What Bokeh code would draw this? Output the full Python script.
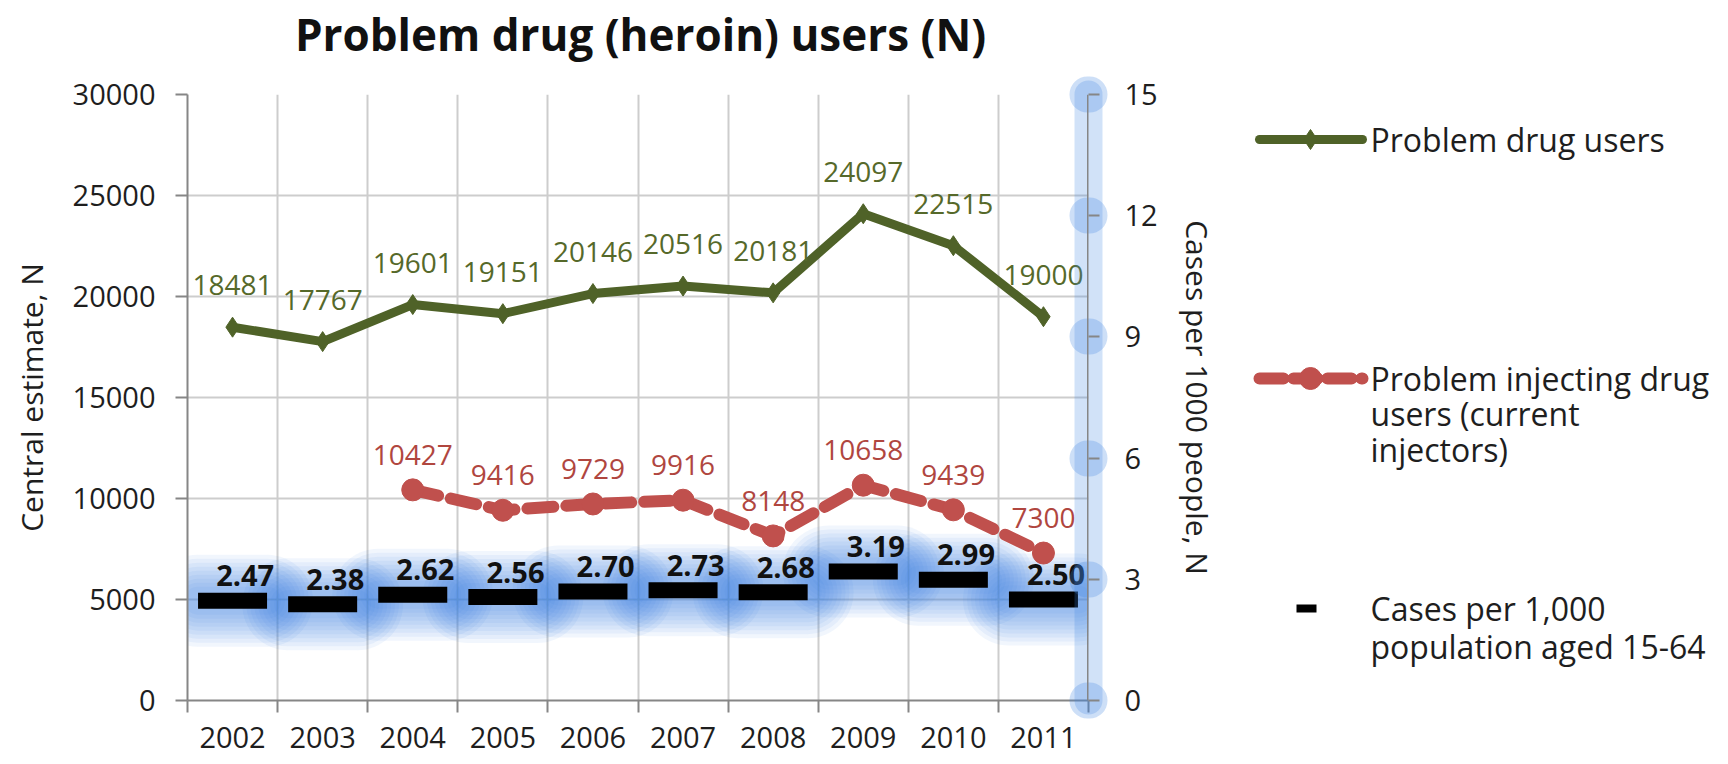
from bokeh.plotting import figure
from bokeh.models import Range1d, LinearAxis, FixedTicker, ColumnDataSource, Span
from bokeh.layouts import row, column
from bokeh.transform import dodge
from bokeh.embed import file_html
from bokeh.resources import INLINE
from bokeh.core.properties import value

# ---------------- data ----------------
years = [2002, 2003, 2004, 2005, 2006, 2007, 2008, 2009, 2010, 2011]
problem_users = [18481, 17767, 19601, 19151, 20146, 20516, 20181, 24097, 22515, 19000]
injecting_users = [None, None, 10427, 9416, 9729, 9916, 8148, 10658, 9439, 7300]
cases_per_1000 = [2.47, 2.38, 2.62, 2.56, 2.70, 2.73, 2.68, 3.19, 2.99, 2.50]
left_ticks = [0, 5000, 10000, 15000, 20000, 25000, 30000]
right_ticks = [0, 3, 6, 9, 12, 15]
title_text = ["Problem drug (heroin) users (N)"]
left_title = "Central estimate, N"
right_title = "Cases per 1000 people, N"
legend_users = ["Problem drug users"]
legend_inject = ["Problem injecting drug", "users (current", "injectors)"]
legend_cases = ["Cases per 1,000", "population aged 15-64"]

FONT = "Open Sans"
GREEN = "#4F6228"
GREEN_TXT = "#56692A"
RED = "#C0504D"
RED_TXT = "#B0463F"
GLOW = "#3D85E0"
AXIS = "#868686"
GRID = "#CDCDCD"
TXT = "#1E1E1E"

# layout (page pixels)
TOTAL_W = 1724
TITLE_H = 64
H = 764 - TITLE_H
FRAME_L, FRAME_R = 187, 1088
FRAME_T, FRAME_B = 94, 700            # page coordinates
MAIN_W = 1238
LEG_W = TOTAL_W - MAIN_W
BORDER_T = FRAME_T - TITLE_H
BORDER_B = 764 - FRAME_B

# ---------------- title strip ----------------
tf = figure(width=TOTAL_W, height=TITLE_H, x_range=Range1d(0, TOTAL_W),
            y_range=Range1d(TITLE_H, 0), x_axis_type=None, y_axis_type=None,
            output_backend="svg", toolbar_location=None, min_border=0)
tf.outline_line_color = None
tf.grid.visible = False
tf.text(x=[640], y=[33], text=title_text, text_font=value(FONT),
        text_font_size="44px", text_font_style="bold", text_color="#111111",
        text_align="center", text_baseline="alphabetic")

# ---------------- main figure ----------------
p = figure(width=MAIN_W, height=H,
           x_range=Range1d(years[0] - 0.5, years[-1] + 0.5),
           y_range=Range1d(left_ticks[0], left_ticks[-1]),
           output_backend="svg", toolbar_location=None,
           min_border_left=FRAME_L, min_border_right=MAIN_W - FRAME_R,
           min_border_top=BORDER_T, min_border_bottom=BORDER_B)
p.outline_line_color = None
p.background_fill_color = "white"
p.border_fill_color = "white"

p.extra_y_ranges = {"right": Range1d(right_ticks[0], right_ticks[-1])}

# left axis
ya = p.yaxis[0]
ya.ticker = FixedTicker(ticks=left_ticks)
ya.axis_label = left_title
ya.axis_label_text_font = FONT
ya.axis_label_text_font_size = "30px"
ya.axis_label_text_font_style = "normal"
ya.axis_label_text_color = TXT
ya.axis_label_standoff = 18
ya.major_label_text_font = FONT
ya.major_label_text_font_size = "29px"
ya.major_label_text_color = TXT
ya.major_label_standoff = 20
ya.major_tick_out = 12
ya.major_tick_in = 0
ya.major_tick_line_color = AXIS
ya.major_tick_line_width = 2
ya.axis_line_color = AXIS
ya.axis_line_width = 2
ya.minor_tick_line_color = None

# bottom axis
boundaries = [y - 0.5 for y in years] + [years[-1] + 0.5]
xa = p.xaxis[0]
xa.ticker = FixedTicker(ticks=years, minor_ticks=boundaries)
xa.major_label_overrides = {y: str(y) for y in years}
xa.major_label_text_font = FONT
xa.major_label_text_font_size = "29px"
xa.major_label_text_color = TXT
xa.major_label_standoff = 14
xa.major_tick_out = 12
xa.major_tick_in = 0
xa.major_tick_line_color = None
xa.minor_tick_out = 12
xa.minor_tick_in = 0
xa.minor_tick_line_color = AXIS
xa.minor_tick_line_width = 2
xa.axis_line_color = AXIS
xa.axis_line_width = 2

# right axis (with glow)
ra = LinearAxis(y_range_name="right",
                ticker=FixedTicker(ticks=right_ticks, minor_ticks=right_ticks),
                axis_label=right_title)
ra.axis_label_text_font = FONT
ra.axis_label_text_font_size = "30px"
ra.axis_label_text_font_style = "normal"
ra.axis_label_text_color = TXT
ra.axis_label_standoff = 16
ra.major_label_text_font = FONT
ra.major_label_text_font_size = "29px"
ra.major_label_text_color = TXT
ra.major_label_standoff = 25
ra.axis_line_color = GLOW
ra.axis_line_alpha = 0.24
ra.axis_line_width = 28
ra.axis_line_cap = "round"
ra.major_tick_line_color = GLOW
ra.major_tick_line_alpha = 0.26
ra.major_tick_line_width = 36
ra.major_tick_line_cap = "round"
ra.major_tick_in = 1
ra.major_tick_out = 1
ra.minor_tick_line_color = AXIS
ra.minor_tick_line_width = 2
ra.minor_tick_in = 0
ra.minor_tick_out = 11
p.add_layout(ra, "right")
p.add_layout(Span(location=years[-1] + 0.5, dimension="height",
                  line_color=AXIS, line_width=3, level="overlay"))

# grids
p.xgrid.ticker = FixedTicker(ticks=boundaries[1:-1])
p.xgrid.grid_line_color = GRID
p.xgrid.grid_line_width = 2
p.ygrid.ticker = FixedTicker(ticks=left_ticks)
p.ygrid.grid_line_color = GRID
p.ygrid.grid_line_width = 2

# sources
src = ColumnDataSource(dict(
    year=years,
    users=problem_users,
    users_lbl=[str(v) for v in problem_users],
    cases=cases_per_1000,
    cases_lbl=[f"{v:.2f}" for v in cases_per_1000],
))
inj_years = [y for y, v in zip(years, injecting_users) if v is not None]
inj_vals = [v for v in injecting_users if v is not None]
src_inj = ColumnDataSource(dict(year=inj_years, inj=inj_vals,
                                inj_lbl=[str(v) for v in inj_vals]))

# soft glow under the cases markers
for w in [92, 84, 76, 68, 60, 52, 44, 36, 28]:
    p.segment(x0=dodge("year", -0.383), x1=dodge("year", 0.383),
              y0="cases", y1="cases", source=src, y_range_name="right",
              line_color=GLOW, line_alpha=0.07, line_width=w, line_cap="round")

# cases markers (dash)
p.segment(x0=dodge("year", -0.383), x1=dodge("year", 0.383),
          y0="cases", y1="cases", source=src, y_range_name="right",
          line_color="black", line_width=16, line_cap="butt")
p.text(x=dodge("year", 0.14), y="cases", text="cases_lbl", source=src,
       y_range_name="right", text_font=value(FONT), text_font_size="29px",
       text_font_style="bold", text_color="#111111", text_align="center",
       text_baseline="alphabetic", y_offset=-25)

# problem drug users
p.line(x="year", y="users", source=src, line_color=GREEN, line_width=9,
       line_join="round")
p.scatter(x="year", y="users", source=src, marker="diamond", size=20,
          fill_color=GREEN, line_color=GREEN)
p.text(x="year", y="users", text="users_lbl", source=src,
       text_font=value(FONT), text_font_size="28px", text_color=GREEN_TXT,
       text_align="center", text_baseline="alphabetic", y_offset=-42)

# problem injecting drug users
p.line(x="year", y="inj", source=src_inj, line_color=RED, line_width=12,
       line_dash="26 13", line_cap="round", line_join="round")
p.scatter(x="year", y="inj", source=src_inj, marker="circle", size=22,
          fill_color=RED, line_color=RED)
p.text(x="year", y="inj", text="inj_lbl", source=src_inj,
       text_font=value(FONT), text_font_size="28px", text_color=RED_TXT,
       text_align="center", text_baseline="alphabetic", y_offset=-35)

# ---------------- legend figure (frame aligned with the main frame) ----------------
lg = figure(width=LEG_W, height=H, x_range=Range1d(0, LEG_W),
            y_range=Range1d(FRAME_B, FRAME_T),
            x_axis_type=None, y_axis_type=None,
            output_backend="svg", toolbar_location=None,
            min_border_left=0, min_border_right=0,
            min_border_top=BORDER_T, min_border_bottom=BORDER_B)
lg.outline_line_color = None
lg.grid.visible = False

lg.line(x=[21, 124], y=[139, 139], line_color=GREEN, line_width=9, line_cap="round")
lg.scatter(x=[72], y=[139], marker="diamond", size=20, fill_color=GREEN, line_color=GREEN)

lg.line(x=[21, 124], y=[378, 378], line_color=RED, line_width=12,
        line_dash="24 10", line_cap="round")
lg.scatter(x=[72], y=[378], marker="circle", size=22, fill_color=RED, line_color=RED)

lg.segment(x0=[58], x1=[78], y0=[608], y1=[608], line_color="black", line_width=8)

leg_text = legend_users + legend_inject + legend_cases
leg_y = [139, 378, 413, 449, 608, 646]
lg.text(x=[132] * len(leg_text), y=leg_y, text=leg_text,
        text_font=value(FONT), text_font_size="32px", text_color=TXT,
        text_align="left", text_baseline="middle")

layout = column(tf, row(p, lg))
open("out.html", "w").write(file_html(layout, INLINE))
